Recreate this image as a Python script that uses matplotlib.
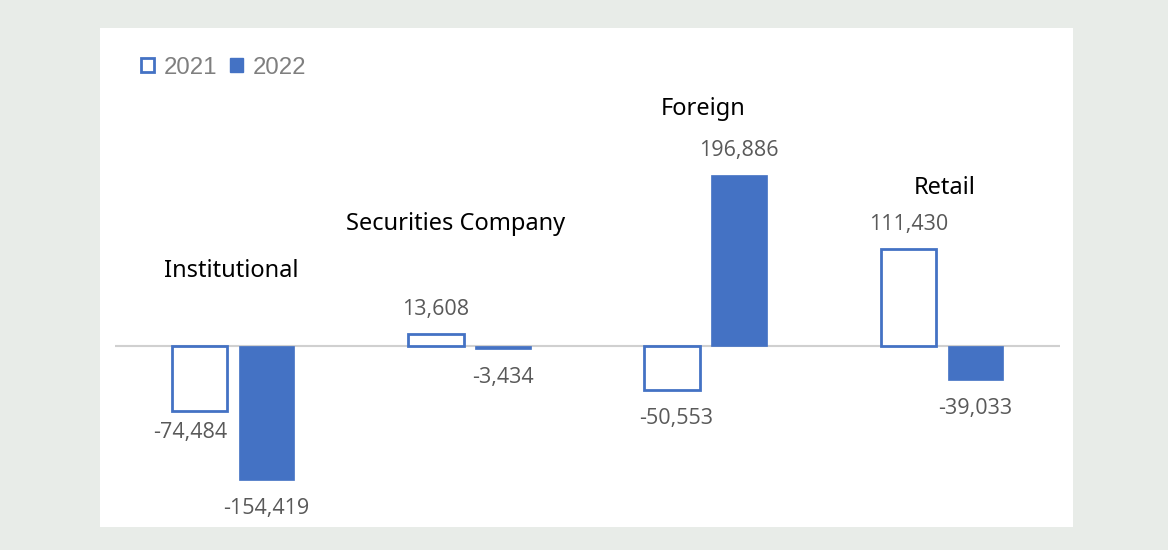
import numpy as np
import matplotlib
matplotlib.use("Agg")
import matplotlib.pyplot as plt
from matplotlib.patches import Rectangle

categories = ["Institutional", "Securities Company", "Foreign", "Retail"]
values_2021 = [-74484, 13608, -50553, 111430]
values_2022 = [-154419, -3434, 196886, -39033]
series_labels = ["2021", "2022"]

BLUE = "#4472C4"
GRAY_TXT = "#595959"
BG = "#e8ece8"

fig = plt.figure(figsize=(11.68, 5.5), dpi=100, facecolor=BG)
W, H = 1168, 550

# white panel behind the chart
fig.patches.append(Rectangle((100 / W, 23 / H), 973 / W, 499 / H,
                             transform=fig.transFigure, facecolor="white",
                             edgecolor="none", zorder=-1))

ax = fig.add_axes([115 / W, 23 / H, 945 / W, 499 / H])
ax.set_facecolor("none")
ax.set_xlim(-0.5, 3.5)
ax.set_ylim(-208000, 366000)
ax.axis("off")

x = np.arange(len(categories))
width = 0.235
shift = 0.142

ax.axhline(0, color="#d0d0d0", lw=1.5, zorder=1)
ax.bar(x - shift, values_2021, width, facecolor="white", edgecolor=BLUE,
       linewidth=2, zorder=2)
ax.bar(x + shift, values_2022, width, facecolor=BLUE, edgecolor=BLUE,
       linewidth=0.5, zorder=2)

# value labels, offset in points from the bar end
def label(xpos, v, dx=0.0, dy=0):
    pos = v >= 0
    ax.annotate(f"{v:,}", (xpos, v), xytext=(dx, (10 if pos else -13) + dy),
                textcoords="offset points", ha="center",
                va="bottom" if pos else "top",
                fontsize=15.5, color=GRAY_TXT, family="Open Sans")

for i in range(len(categories)):
    dx, dy = 0, 0
    if i == 0:
        dx, dy = -7, 5  # Institutional 2021 label sits left and higher
    elif values_2021[i] < 0:
        dx = 3
    label(x[i] - shift, values_2021[i], dx, dy)
    label(x[i] + shift, values_2022[i])

# category names placed above each group
cat_y = [86000, 140000, 273000, 182000]
cat_dx = [-0.01, -0.06, -0.01, 0.01]
for i, name in enumerate(categories):
    ax.text(x[i] + cat_dx[i], cat_y[i], name, ha="center", va="center",
            fontsize=17, color="black", family="Noto Sans")

# legend
handles = [Rectangle((0, 0), 1, 1, facecolor="white", edgecolor=BLUE, lw=2),
           Rectangle((0, 0), 1, 1, facecolor=BLUE, edgecolor=BLUE)]
fig.legend(handles, series_labels, loc="upper left",
           bbox_to_anchor=(131 / W, 1 - 47 / H), ncol=2, frameon=False,
           handlelength=0.55, handleheight=0.55, handletextpad=0.4,
           columnspacing=0.55, borderaxespad=0,
           prop={"family": "Liberation Sans", "size": 17.3},
           labelcolor="#7f7f7f")

fig.savefig("out.png", dpi=100, facecolor=BG)
